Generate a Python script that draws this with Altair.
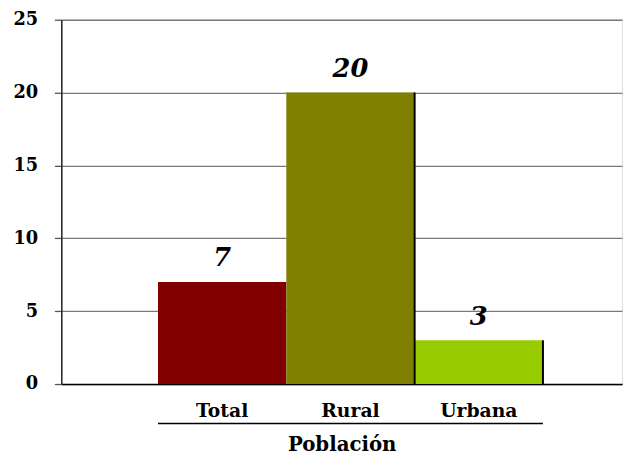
import altair as alt
import pandas as pd

categories = ["Total", "Rural", "Urbana"]
values = [7, 20, 3]
colors = ["#800000", "#808000", "#99CC00"]
axis_title = "Población"
y_ticks = [0, 5, 10, 15, 20, 25]

df = pd.DataFrame({"cat": categories, "val": values})
span = pd.DataFrame({"start": [categories[0]], "end": [categories[-1]]})

serif = "DejaVu Serif"
W, H = 568, 369

xscale = alt.Scale(domain=categories, paddingInner=0, paddingOuter=0.685, align=0.55)
yscale = alt.Scale(domain=[0, 25], nice=False)

x_axis = alt.Axis(
    title=axis_title, labelAngle=0, ticks=False, grid=False,
    labelFont=serif, labelFontSize=19, labelFontWeight="bold", labelColor="black",
    labelPadding=18, titleFont=serif, titleFontSize=20, titleFontWeight="bold",
    titleColor="black", titlePadding=14, domainColor="black", domainWidth=1.5,
)
y_axis = alt.Axis(
    title=None, values=y_ticks, grid=True, gridColor="#7a7a7a", gridWidth=1.3,
    tickSize=7, tickColor="#555555", tickWidth=1.3,
    labelFont=serif, labelFontSize=18, labelFontWeight="bold", labelColor="black",
    labelPadding=17, domainColor="#222222", domainWidth=1.5,
)

bars = alt.Chart(df).mark_bar().encode(
    x=alt.X("cat:N", scale=xscale, sort=categories, axis=x_axis),
    y=alt.Y("val:Q", scale=yscale, axis=y_axis),
    color=alt.Color("cat:N", scale=alt.Scale(domain=categories, range=colors), legend=None),
)

edges = alt.Chart(df).transform_filter(
    alt.datum.cat != categories[0]
).mark_rule(color="black", strokeWidth=2).encode(
    x=alt.X("cat:N", scale=xscale, sort=categories, bandPosition=1),
    y=alt.Y("val:Q", scale=yscale),
    y2=alt.datum(0),
)

labels = alt.Chart(df).mark_text(
    font=serif, fontSize=26, fontWeight="bold", fontStyle="italic",
    baseline="bottom", dy=-11, color="black",
).encode(
    x=alt.X("cat:N", scale=xscale, sort=categories),
    y=alt.Y("val:Q", scale=yscale),
    text=alt.Text("val:Q"),
)

underline = alt.Chart(span).mark_rule(color="black", strokeWidth=1.5).encode(
    x=alt.X("start:N", scale=xscale, bandPosition=0),
    x2=alt.X2("end:N", bandPosition=1),
    y=alt.value(H + 40),
)

chart = alt.layer(bars, edges, labels, underline).properties(
    width=W, height=H,
    autosize=alt.AutoSizeParams(type="none"),
    padding={"left": 54, "top": 9, "right": 4, "bottom": 70},
).configure_view(stroke=None).configure(background="white", font=serif)

chart.save("out.html", embed_options={"renderer": "svg", "actions": False})
